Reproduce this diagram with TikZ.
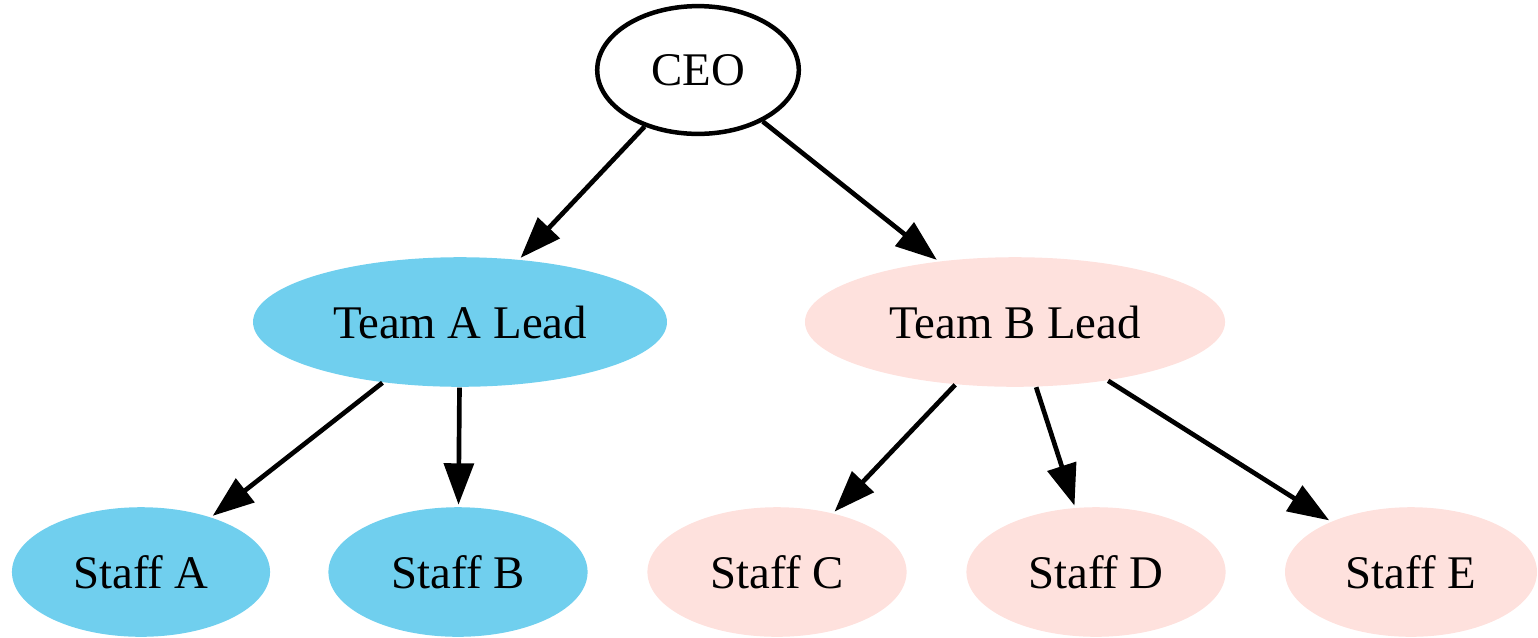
\documentclass[tikz,border=0pt]{standalone}
\usepackage{fontspec}
\setmainfont{Liberation Serif}
\usetikzlibrary{shapes.geometric,arrows.meta}
\definecolor{teamA}{RGB}{112,207,238}
\definecolor{teamB}{RGB}{254,225,221}
\begin{document}
\begin{tikzpicture}[x=0.2778pt,y=-0.2778pt,
  person/.style={ellipse, inner sep=0pt, minimum height=36pt,
    font=\fontsize{13}{15}\selectfont},
  boss/.style={person, draw=black, line width=1.25pt, fill=white,
    minimum width=56pt, minimum height=35.5pt},
  groupA/.style={person, fill=teamA},
  groupB/.style={person, fill=teamB},
  link/.style={-{Triangle[length=11.5pt,width=8.2pt]}, line width=1.3pt, shorten >=0.5pt}]
\useasboundingbox (0,0) rectangle (1538,637);

% top of the chart
\node[boss] (ceo) at (698,70) {CEO};

% team leads
\node[groupA, minimum width=115pt] (leadA) at (460,322) {Team A Lead};
\node[groupB, minimum width=116.7pt] (leadB) at (1015,322) {Team B Lead};

% staff
\node[groupA, minimum width=71.7pt] (staffA) at (141,572) {Staff A};
\node[groupA, minimum width=72pt] (staffB) at (458,572) {Staff B};
\node[groupB, minimum width=72pt] (staffC) at (777,572) {Staff C};
\node[groupB, minimum width=72pt] (staffD) at (1096,572) {Staff D};
\node[groupB, minimum width=70pt] (staffE) at (1411,572) {Staff E};

% reporting lines
\draw[link] (ceo) -- (leadA);
\draw[link] (ceo) -- (leadB);
\draw[link] (leadA) -- (staffA);
\draw[link] (leadA) -- (staffB);
\draw[link] (leadB) -- (staffC);
\draw[link] (leadB) -- (staffD);
\draw[link] (leadB) -- (staffE);
\end{tikzpicture}
\end{document}
